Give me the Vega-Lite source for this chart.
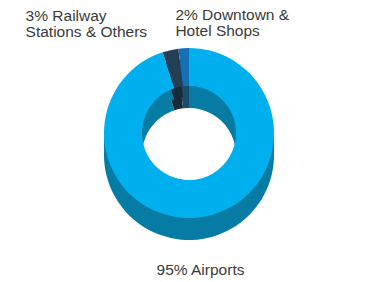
{
  "$schema": "https://vega.github.io/schema/vega-lite/v6.json",
  "width": 366,
  "height": 282,
  "autosize": {"type": "fit", "contains": "padding"},
  "padding": 0,
  "background": "white",
  "config": {"view": {"stroke": null}},
  "data": {
    "values": [
      {"category": "Airports", "label": "95% Airports", "value": 95},
      {"category": "Railway Stations & Others", "label": "3% Railway\nStations & Others", "value": 3},
      {"category": "Downtown & Hotel Shops", "label": "2% Downtown &\nHotel Shops", "value": 2}
    ]
  },
  "encoding": {
    "theta": {"field": "value", "type": "quantitative", "stack": true},
    "order": {"field": "value", "type": "quantitative", "sort": "descending"}
  },
  "layer": [
    {
      "mark": {"type": "arc", "radius": 85, "radius2": 47, "xOffset": 6, "yOffset": 14},
      "encoding": {
        "color": {"field": "category", "type": "nominal", "legend": null,
          "scale": {"domain": ["Airports", "Railway Stations & Others", "Downtown & Hotel Shops"], "range": ["#067ca5", "#182937", "#1c4c6a"]}}
      }
    },
    {
      "mark": {"type": "arc", "radius": 85, "radius2": 47, "xOffset": 6, "yOffset": 3},
      "encoding": {
        "color": {"field": "category", "type": "nominal", "legend": null,
          "scale": {"domain": ["Airports", "Railway Stations & Others", "Downtown & Hotel Shops"], "range": ["#067ca5", "#182937", "#1c4c6a"]}}
      }
    },
    {
      "mark": {"type": "arc", "radius": 85, "radius2": 47, "xOffset": 6, "yOffset": -8},
      "encoding": {
        "color": {"field": "category", "type": "nominal", "legend": null,
          "scale": {"domain": ["Airports", "Railway Stations & Others", "Downtown & Hotel Shops"], "range": ["#00b0ee", "#253f54", "#1570b6"]}}
      }
    },
    {
      "mark": {"type": "text", "radius": 121, "align": "left", "baseline": "middle", "dx": -131, "dy": -7, "font": "Liberation Sans", "fontSize": 15.5, "lineHeight": 16, "lineBreak": "\n", "color": "#3a3a3a"},
      "encoding": {
        "text": {"condition": {"test": "datum.category === 'Railway Stations & Others'", "field": "label"}, "value": ""}
      }
    },
    {
      "mark": {"type": "text", "radius": 121, "align": "left", "baseline": "middle", "dx": 0, "dy": -5, "font": "Liberation Sans", "fontSize": 15.5, "lineHeight": 16, "lineBreak": "\n", "color": "#3a3a3a"},
      "encoding": {
        "text": {"condition": {"test": "datum.category === 'Downtown & Hotel Shops'", "field": "label"}, "value": ""}
      }
    },
    {
      "mark": {"type": "text", "radius": 131, "align": "center", "baseline": "middle", "dx": -3, "font": "Liberation Sans", "fontSize": 15.5, "lineHeight": 16, "lineBreak": "\n", "color": "#3a3a3a"},
      "encoding": {
        "text": {"condition": {"test": "datum.category === 'Airports'", "field": "label"}, "value": ""}
      }
    }
  ],
  "resolve": {"scale": {"color": "independent"}}
}
